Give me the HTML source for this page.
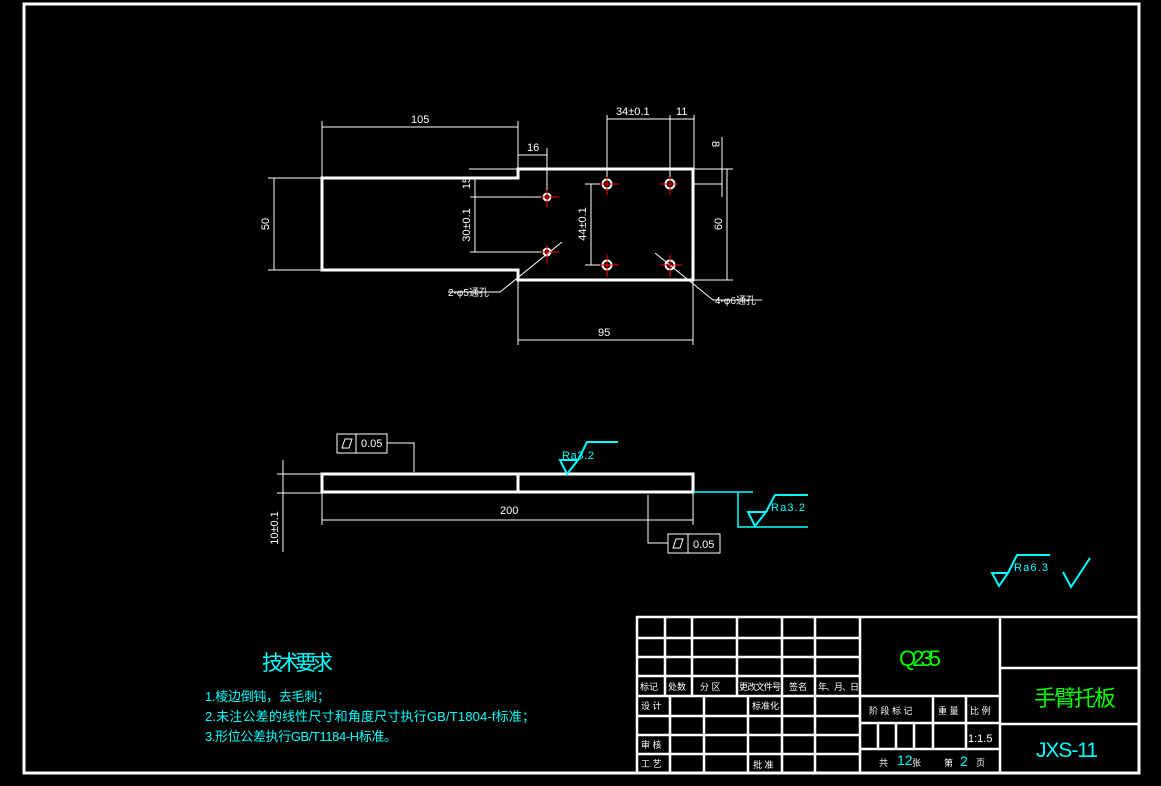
<!DOCTYPE html>
<html><head><meta charset="utf-8"><style>
html,body{margin:0;padding:0;background:#000;}
svg{display:block}
text{font-family:"Liberation Sans","Noto Sans CJK SC",sans-serif;}
</style></head><body>
<svg width="1161" height="786" viewBox="0 0 1161 786" xmlns="http://www.w3.org/2000/svg">
<rect width="1161" height="786" fill="#000"/>
<rect x="24" y="4" width="1115" height="769" fill="none" stroke="#fff" stroke-width="3"/>

<!-- TOP VIEW -->
<g stroke="#fff" fill="none">
<path d="M322 178 H518 V169 H693 V280 H518 V270 H322 Z" stroke-width="3"/>
<g stroke-width="1">
<path d="M322 121 V178 M518 121 V178 M322 127 H518"/>
<path d="M518 155 H547 M547 148 V197"/>
<path d="M268 178 H322 M268 270 H322 M274 178 V270"/>
<path d="M469 169 H518 M470 197 H547 M470 252 H547 M475 178 V252"/>
<path d="M607 115 V184 M670 115 V184 M694 115 V169 M607 119 H694"/>
<path d="M694 169 H733 M694 184 H722 M722 137 V197"/>
<path d="M694 280 H733 M727 169 V280"/>
<path d="M585 184 H607 M585 265 H607 M591 184 V265"/>
<path d="M518 280 V345 M693 280 V345 M518 340 H693"/>
<path d="M448 292 H500 L562 242"/>
<path d="M655 253 L713 300 H762"/>
</g>
<g stroke-width="2">
<circle cx="547" cy="197" r="3.5"/><circle cx="547" cy="252" r="3.5"/>
<circle cx="607" cy="184" r="4.5"/><circle cx="670" cy="184" r="4.5"/>
<circle cx="607" cy="265" r="4.5"/><circle cx="670" cy="265" r="4.5"/>
</g>
</g>
<g stroke="#f00" stroke-width="1">
<path d="M541 197 H559 M547 190 V207 M541 252 H559 M547 245 V263"/>
<path d="M600 184 H619 M607 177 V195 M660 184 H677 M670 177 V195"/>
<path d="M600 265 H619 M607 255 V277 M660 265 H682 M670 255 V277"/>
</g>
<g fill="#fff" font-size="11">
<text x="411" y="123">105</text>
<text x="527" y="151">16</text>
<text x="616" y="115">34±0.1</text>
<text x="676" y="115">11</text>
<text x="598" y="336">95</text>
<text x="448" y="296" font-size="10">2-φ5通孔</text>
<text x="715" y="304" font-size="10">4-φ6通孔</text>
<text transform="translate(269,224) rotate(-90)" text-anchor="middle">50</text>
<text transform="translate(722,224) rotate(-90)" text-anchor="middle">60</text>
<text transform="translate(712,144) rotate(90)" text-anchor="middle">8</text>
<text transform="translate(470,183) rotate(-90)" text-anchor="middle">15</text>
<text transform="translate(470,225) rotate(-90)" text-anchor="middle">30±0.1</text>
<text transform="translate(586,224) rotate(-90)" text-anchor="middle">44±0.1</text>
</g>

<!-- SIDE VIEW -->
<g stroke="#fff" fill="none">
<path d="M322 474 H693 V492 H322 Z M518 474 V492" stroke-width="3"/>
<g stroke-width="1">
<path d="M322 492 V525 M693 492 V525 M322 520 H693"/>
<path d="M277 474 H322 M277 493 H322 M283 460 V552"/>
<rect x="337" y="434" width="50" height="19"/><path d="M356 434 V453"/>
<path d="M387 443 H414 V472"/>
<rect x="668" y="534" width="52" height="19"/><path d="M688 534 V553"/>
<path d="M668 543 H648 V495"/>
<path d="M342 448 L345 439 H352 L349 448 Z M673 548 L676 539 H683 L680 548 Z"/>
</g>
</g>
<g fill="#fff" font-size="11">
<text x="500" y="514">200</text>
<text x="361" y="447">0.05</text>
<text x="693" y="548">0.05</text>
<text transform="translate(278,528) rotate(-90)" text-anchor="middle">10±0.1</text>
</g>
<g stroke="#0ff" fill="none" stroke-width="2">
<path d="M560 460 H578 L567 474 Z M578 460 L587 442 H618"/>
<path d="M693 492 H753 M738 492 V527 H808" stroke-width="1.5"/>
<path d="M748 512 H766 L755 526 Z M766 512 L775 495 H808"/>
<path d="M992 573 H1008 L999 586 Z M1008 573 L1017 555 H1050"/>
<path d="M1063 572 L1071 587 L1090 558"/>
</g>
<g fill="#0ff" font-size="11">
<text x="562" y="459" textLength="32">Ra3.2</text>
<text x="771" y="511" textLength="34">Ra3.2</text>
<text x="1014" y="571" textLength="34">Ra6.3</text>
</g>

<!-- Technical requirements -->
<g fill="#0ff">
<text x="262" y="670" font-size="21" textLength="71">技术要求</text>
<text x="205" y="701" font-size="13" textLength="125">1.棱边倒钝，去毛刺；</text>
<text x="205" y="721" font-size="13" textLength="330">2.未注公差的线性尺寸和角度尺寸执行GB/T1804-f标准；</text>
<text x="205" y="741" font-size="13" textLength="192">3.形位公差执行GB/T1184-H标准。</text>
</g>

<!-- Title block -->
<g stroke="#fff" fill="none" stroke-width="2.5">
<rect x="637" y="617" width="502" height="156"/>
<path d="M637 638 H860 M637 657 H860 M637 676 H860 M637 696 H860"/>
<path d="M665 617 V696 M692 617 V696 M737 617 V696 M782 617 V696 M815 617 V696 M860 617 V773"/>
<path d="M637 716 H860 M637 735 H860 M637 754 H860"/>
<path d="M670 696 V773 M704 696 V773 M748 696 V773 M782 696 V773 M815 696 V773"/>
<path d="M860 696 H1000 M860 723 H1000 M860 749 H1000 M1000 617 V773"/>
<path d="M933 696 V749 M966 696 V749 M878 723 V749 M896 723 V749 M914 723 V749"/>
<path d="M1000 668 H1139 M1000 724 H1139"/>
</g>
<g fill="#fff" font-size="9">
<text x="640" y="690">标记</text><text x="668" y="690">处数</text><text x="700" y="690">分 区</text>
<text x="739" y="690" textLength="42">更改文件号</text><text x="789" y="690">签名</text><text x="818" y="690" textLength="41">年、月、日</text>
<text x="641" y="709">设 计</text><text x="752" y="709">标准化</text>
<text x="641" y="748">审 核</text><text x="641" y="767">工 艺</text><text x="753" y="768">批 准</text>
<text x="869" y="714">阶 段 标 记</text><text x="938" y="714">重 量</text><text x="970" y="714">比 例</text>
<text x="968" y="742" font-size="11">1:1.5</text>
<text x="879" y="766">共</text><text x="912" y="766">张</text><text x="944" y="766">第</text><text x="976" y="766">页</text>
</g>
<text x="897" y="765" fill="#0ff" font-size="14">12</text>
<text x="960" y="766" fill="#0ff" font-size="14">2</text>
<text x="899" y="666" fill="#0f0" font-size="22" textLength="42">Q235</text>
<text x="1034" y="706" fill="#0f0" font-size="22" textLength="82">手臂托板</text>
<text x="1036" y="757" fill="#0ff" font-size="21" textLength="62">JXS-11</text>
</svg>
</body></html>
